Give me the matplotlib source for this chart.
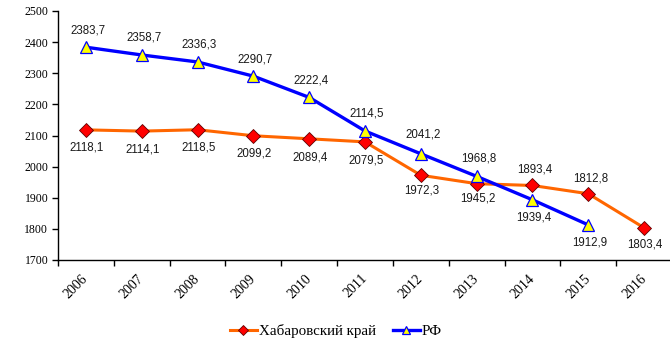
import matplotlib.pyplot as plt
from matplotlib.ticker import FixedLocator, NullFormatter

years = ['2006', '2007', '2008', '2009', '2010', '2011',
         '2012', '2013', '2014', '2015', '2016']
khab = [2118.1, 2114.1, 2118.5, 2099.2, 2089.4, 2079.5,
        1972.3, 1945.2, 1939.4, 1912.9, 1803.4]
rf = [2383.7, 2358.7, 2336.3, 2290.7, 2222.4, 2114.5,
      2041.2, 1968.8, 1893.4, 1812.8]

# vertical label shifts in pixels (positive = below the point)
khab_shift = [18, 18, 18, 18, 19, 19, 15, 15, 32, 49, 17]
rf_shift = [-17, -17, -17, -17, -17, -17, -19, -18, -30, -46]

plt.rcParams['font.family'] = ['Liberation Serif', 'DejaVu Serif']

fig = plt.figure(figsize=(6.7, 3.49), dpi=100)
ax = fig.add_axes([58 / 670, 89 / 349, 614 / 670, 249 / 349])

x_k = list(range(len(khab)))
x_r = list(range(len(rf)))

ax.plot(x_k, khab, color='#FF6600', lw=2.2, marker='D', ms=7,
        mfc='#FF0000', mec='#600000', mew=0.6, label='Хабаровский край', zorder=3)
ax.plot(x_r, rf, color='#0000FF', lw=2.4, marker='^', ms=9,
        mfc='#FFFF00', mec='#0000FF', mew=0.9, label='РФ', zorder=4)

for xi, v, dy in zip(x_k, khab, khab_shift):
    ax.annotate(f'{v:.1f}'.replace('.', ','), (xi, v), xytext=(1, -dy),
                textcoords='offset pixels', ha='center', va='center',
                fontsize=8.3, family='Liberation Sans', color='#1a1a1a')
for xi, v, dy in zip(x_r, rf, rf_shift):
    ax.annotate(f'{v:.1f}'.replace('.', ','), (xi, v), xytext=(2, -dy),
                textcoords='offset pixels', ha='center', va='center',
                fontsize=8.3, family='Liberation Sans', color='#1a1a1a')

ax.set_xlim(-0.5, len(years) - 0.5)
ax.set_ylim(1700, 2500)
ax.set_yticks(range(1700, 2501, 100))

# tick marks between categories, labels at category centres
ax.xaxis.set_major_locator(FixedLocator([i - 0.5 for i in range(len(years) + 1)]))
ax.xaxis.set_major_formatter(NullFormatter())
ax.xaxis.set_minor_locator(FixedLocator(x_k))
ax.set_xticklabels(years, minor=True, rotation=45, ha='right', va='center',
                   rotation_mode='anchor', fontsize=10)
ax.tick_params(axis='x', which='minor', length=0, pad=12, labelsize=10)
ax.tick_params(axis='x', which='major', length=4, width=1, direction='out')
ax.tick_params(axis='y', length=4, width=1, direction='out', labelsize=8.5, pad=3)

for s in ['top', 'right']:
    ax.spines[s].set_visible(False)
for s in ['left', 'bottom']:
    ax.spines[s].set_linewidth(1)
    ax.spines[s].set_color('black')

fig.legend(loc='center', bbox_to_anchor=(336 / 670, 1 - 331 / 349), ncol=2,
           frameon=False, fontsize=10.8, handlelength=1.8, handletextpad=0.15,
           columnspacing=1.1, markerscale=0.7)

fig.savefig('out.png', dpi=100)
